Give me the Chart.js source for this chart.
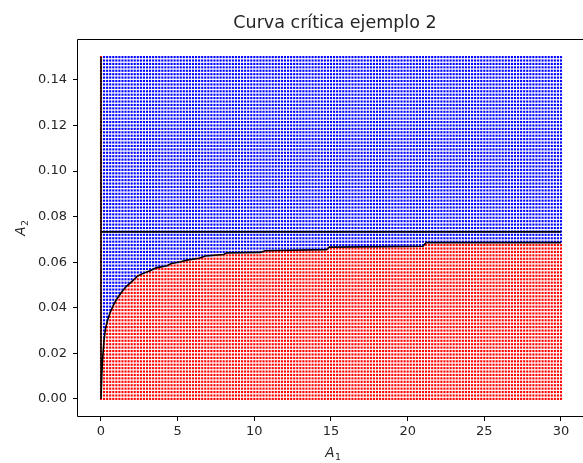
<!DOCTYPE html>
<html>
<head>
<meta charset="utf-8">
<script src="https://cdn.jsdelivr.net/npm/chart.js@4/dist/chart.umd.min.js"></script>
<style>
  html, body { margin: 0; padding: 0; background: #fff; overflow: hidden; }
  #wrap { width: 583px; height: 463px; }
  canvas { display: block; }
</style>
</head>
<body>
<div id="wrap"><canvas id="c" width="583" height="463"></canvas></div>
<script>
// Sampling grid of the (A1, A2) plane
const gridA1Range = [0, 30];
const gridA1Count = 151;
const gridA2Range = [0, 0.15];
const gridA2Count = 101;

// Critical curve (first segment is the vertical branch at A1 = 0)
const critA1 = [0, 0, 0.05, 0.1, 0.2, 0.3, 0.45, 0.6, 0.8, 1.0, 1.3, 1.6, 2.0, 2.4, 2.8, 3.2, 3.6, 4.3, 4.6, 5.2, 5.6, 6.4, 6.8, 8.0, 8.2, 10.4, 10.7, 14.7, 14.9, 21.0, 21.2, 30];
const critA2 = [0.15, 0, 0.010, 0.017, 0.026, 0.031, 0.035, 0.038, 0.041, 0.0435, 0.0465, 0.049, 0.0515, 0.054, 0.0552, 0.0562, 0.0575, 0.0584, 0.0594, 0.0602, 0.0609, 0.0617, 0.0627, 0.0634, 0.0641, 0.0643, 0.0650, 0.0655, 0.0666, 0.0670, 0.0686, 0.0686];

// Horizontal limit level
const limitA1 = [0, 30];
const limitA2 = [0.0733, 0.0733];

// Axis ticks
const xTicks = [0, 5, 10, 15, 20, 25, 30];
const yTicks = [0.00, 0.02, 0.04, 0.06, 0.08, 0.10, 0.12, 0.14];

function linspace(a, b, n) {
  const out = [];
  for (let i = 0; i < n; i++) out.push(a + (b - a) * i / (n - 1));
  return out;
}

// Critical A2 for a given A1 (piecewise linear along the curve)
function criticalAt(x) {
  if (x <= 0) return critA2[0];
  for (let i = 2; i < critA1.length; i++) {
    if (x <= critA1[i]) {
      const x0 = critA1[i - 1], x1 = critA1[i];
      const y0 = critA2[i - 1], y1 = critA2[i];
      return x1 === x0 ? y1 : y0 + (y1 - y0) * (x - x0) / (x1 - x0);
    }
  }
  return critA2[critA2.length - 1];
}

const gx = linspace(gridA1Range[0], gridA1Range[1], gridA1Count);
const gy = linspace(gridA2Range[0], gridA2Range[1], gridA2Count);
const below = [], above = [];
for (const x of gx) {
  const c = criticalAt(x);
  for (const y of gy) {
    (y <= c ? below : above).push({ x, y });
  }
}

const curvePts = critA1.map((x, i) => ({ x, y: critA2[i] }));
const limitPts = limitA1.map((x, i) => ({ x, y: limitA2[i] }));

const TEXT = '#262626';
const FONT = 'DejaVu Sans';

const decor = {
  id: 'decor',
  afterDraw(chart) {
    const { ctx, chartArea: a } = chart;
    const L = Math.round(a.left) - 0.5, T = Math.round(a.top) - 0.5;
    const B = Math.round(a.bottom) + 0.5, R = chart.width + 2;
    ctx.save();
    // keep the strip right of the data clear
    ctx.fillStyle = '#fff';
    ctx.fillRect(572, T + 1, 20, B - T - 2);
    // axes frame (right side runs past the canvas edge)
    ctx.strokeStyle = '#000';
    ctx.lineWidth = 1;
    ctx.beginPath();
    ctx.moveTo(R, T); ctx.lineTo(L, T); ctx.lineTo(L, B); ctx.lineTo(R, B);
    ctx.stroke();
    // title, centred on the full axes box
    ctx.fillStyle = TEXT;
    ctx.font = '17.5px "' + FONT + '"';
    ctx.textAlign = 'center';
    ctx.textBaseline = 'alphabetic';
    ctx.fillText('Curva crítica ejemplo 2', 335, 27.5);
    // axis labels
    const sub = (label, digit) => {
      ctx.font = 'italic 13.5px "' + FONT + '"';
      const w1 = ctx.measureText(label).width;
      ctx.font = '9.5px "' + FONT + '"';
      const w2 = ctx.measureText(digit).width;
      const x0 = -(w1 + w2) / 2;
      ctx.textAlign = 'left';
      ctx.font = 'italic 13.5px "' + FONT + '"';
      ctx.fillText(label, x0, 0);
      ctx.font = '9.5px "' + FONT + '"';
      ctx.fillText(digit, x0 + w1 + 0.5, 3);
    };
    ctx.save();
    ctx.translate(333, 457);
    sub('A', '1');
    ctx.restore();
    ctx.save();
    ctx.translate(25, (a.top + a.bottom) / 2);
    ctx.rotate(-Math.PI / 2);
    sub('A', '2');
    ctx.restore();
    ctx.restore();
  }
};

new Chart(document.getElementById('c'), {
  type: 'scatter',
  data: {
    datasets: [
      {
        label: 'estable',
        data: below,
        backgroundColor: '#ff0000',
        borderWidth: 0,
        pointStyle: 'rect',
        pointRadius: 1.5,
        order: 3
      },
      {
        label: 'inestable',
        data: above,
        backgroundColor: '#0000ff',
        borderWidth: 0,
        pointStyle: 'rect',
        pointRadius: 1.5,
        order: 3
      },
      {
        label: 'límite',
        data: limitPts,
        showLine: true,
        borderColor: '#000',
        borderWidth: 1.6,
        pointRadius: 0,
        fill: false,
        order: 1
      },
      {
        label: 'curva crítica',
        data: curvePts,
        showLine: true,
        borderColor: '#000',
        borderWidth: 1.6,
        pointRadius: 0,
        fill: false,
        order: 1
      }
    ]
  },
  options: {
    responsive: false,
    animation: false,
    events: [],
    layout: { padding: { top: 40, right: 0, left: 0, bottom: 0 } },
    plugins: {
      legend: { display: false },
      tooltip: { enabled: false },
      title: { display: false }
    },
    scales: {
      x: {
        type: 'linear',
        min: -1.5,
        max: 31.175,
        afterBuildTicks: s => { s.ticks = xTicks.map(v => ({ value: v })); },
        afterFit: s => { s.height = 47; },
        border: { display: false },
        grid: { drawOnChartArea: false, drawTicks: true, tickLength: 5, color: '#000', lineWidth: 1 },
        ticks: {
          color: TEXT,
          font: { family: FONT, size: 13 },
          padding: 3,
          maxRotation: 0,
          autoSkip: false,
          callback: v => String(v)
        }
      },
      y: {
        type: 'linear',
        min: -0.0075,
        max: 0.1575,
        afterBuildTicks: s => { s.ticks = yTicks.map(v => ({ value: v })); },
        afterFit: s => { s.width = 78; },
        border: { display: false },
        grid: { drawOnChartArea: false, drawTicks: true, tickLength: 5, color: '#000', lineWidth: 1 },
        ticks: {
          color: TEXT,
          font: { family: FONT, size: 13 },
          padding: 6,
          autoSkip: false,
          callback: v => v.toFixed(2)
        }
      }
    }
  },
  plugins: [decor]
});
</script>
</body>
</html>
